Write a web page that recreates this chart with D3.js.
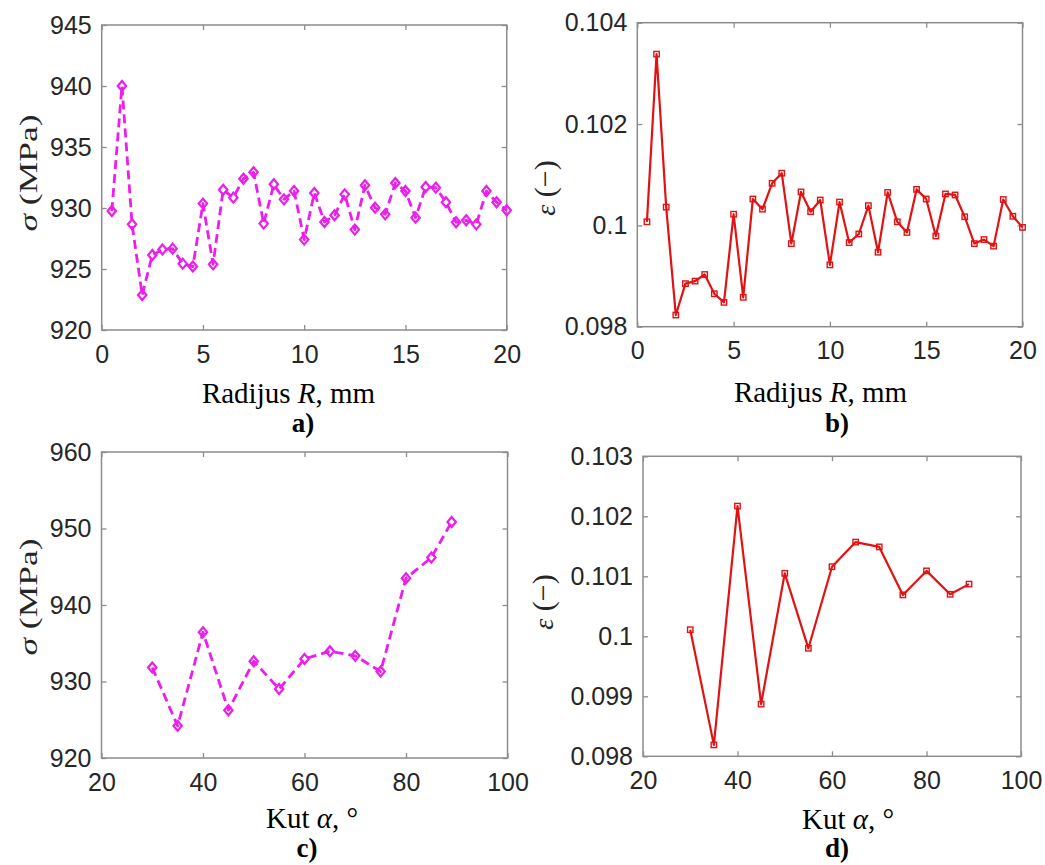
<!DOCTYPE html>
<html><head><meta charset="utf-8">
<script src="https://cdn.jsdelivr.net/npm/d3@7"></script>
<style>
html,body{margin:0;padding:0;background:#fff;}
svg{display:block;}
</style></head>
<body>
<svg id="chart" width="1045" height="865"></svg>
<script>
// ---------- data ----------
const radius = [0.5,1,1.5,2,2.5,3,3.5,4,4.5,5,5.5,6,6.5,7,7.5,8,8.5,9,9.5,10,10.5,11,11.5,12,12.5,13,13.5,14,14.5,15,15.5,16,16.5,17,17.5,18,18.5,19,19.5,20];
const sigmaRadius = [929.75,940.0,928.66,922.87,926.15,926.6,926.67,925.44,925.2,930.36,925.38,931.5,930.85,932.4,932.93,928.72,931.94,930.71,931.39,927.41,931.23,928.85,929.40,931.12,928.23,931.86,930.03,929.48,932.05,931.39,929.21,931.72,931.67,930.47,928.83,928.99,928.66,931.39,930.47,929.81];
const epsRadius = [0.10007,0.10338,0.10036,0.09823,0.09885,0.0989,0.09903,0.09865,0.09848,0.10022,0.09858,0.10052,0.10032,0.10083,0.10103,0.09964,0.10066,0.10027,0.1005,0.09922,0.10046,0.09966,0.09983,0.10039,0.09947,0.10065,0.10007,0.09986,0.10071,0.10052,0.09979,0.10062,0.1006,0.10017,0.09964,0.09972,0.09959,0.10051,0.10018,0.09996];
const angle = [30,35,40,45,50,55,60,65,70,75,80,85,89];
const sigmaAngle = [931.83,924.2,936.44,926.25,932.65,929.03,932.95,933.96,933.35,931.31,943.5,946.2,950.86];
const epsAngle = [0.10011,0.09819,0.10217,0.09887,0.10105,0.0998,0.10116,0.10157,0.10149,0.10069,0.10109,0.1007,0.10087];

const xTicksR = [0,5,10,15,20];
const xTicksA = [20,40,60,80,100];
const yTicksSigmaR = [920,925,930,935,940,945];
const yTicksEpsR = [0.098,0.1,0.102,0.104];
const yTicksSigmaA = [920,930,940,950,960];
const yTicksEpsA = [0.098,0.099,0.1,0.101,0.102,0.103];

// ---------- drawing ----------
const svg = d3.select("#chart");
const MAG = "#ec1eec", RED = "#e21212";
const AX = "#8c8c8c", TXT = "#262626";
const SANS = "'Liberation Sans', Arial, sans-serif";
const SERIF = "'Liberation Serif', 'Times New Roman', serif";

const panels = [
  {box:[101.7,506.7,25,330], xd:[0,20], yd:[920,945], xs:radius, ys:sigmaRadius, xt:xTicksR, yt:yTicksSigmaR,
   color:MAG, dash:"9,5", marker:"diamond", xlab:"R", xlabPos:[288.5,403], ylab:"sigma", ylabPos:[37,173], cap:"a)", capPos:[303,432]},
  {box:[637.3,1022.5,22.7,326.7], xd:[0,20], yd:[0.098,0.104], xs:radius, ys:epsRadius, xt:xTicksR, yt:yTicksEpsR,
   color:RED, dash:null, marker:"square", xlab:"R", xlabPos:[820.5,402], ylab:"eps", ylabPos:[555,188], cap:"b)", capPos:[837,432]},
  {box:[101.5,507.5,452,758], xd:[20,100], yd:[920,960], xs:angle, ys:sigmaAngle, xt:xTicksA, yt:yTicksSigmaA,
   color:MAG, dash:"9,5", marker:"diamond", xlab:"A", xlabPos:[312,828], ylab:"sigma", ylabPos:[37,597], cap:"c)", capPos:[307,857]},
  {box:[643,1021,456.3,756.3], xd:[20,100], yd:[0.098,0.103], xs:angle, ys:epsAngle, xt:xTicksA, yt:yTicksEpsA,
   color:RED, dash:null, marker:"square", xlab:"A", xlabPos:[848,829], ylab:"eps", ylabPos:[553,602], cap:"d)", capPos:[837,857]}
];

const fmt = d3.format("~g");

panels.forEach(p => {
  const [l,r,t,b] = p.box;
  const x = d3.scaleLinear().domain(p.xd).range([l,r]);
  const y = d3.scaleLinear().domain(p.yd).range([b,t]);
  const g = svg.append("g");

  const mk = (axis, tr, labels) => {
    const a = g.append("g").attr("transform", tr).call(axis);
    a.select(".domain").remove();
    a.selectAll(".tick line").attr("stroke", AX).attr("stroke-width", 1.3);
    a.selectAll(".tick text").attr("fill", TXT).style("font-family", SANS).style("font-size","25px");
    if (!labels) a.selectAll(".tick text").remove();
    return a;
  };
  mk(d3.axisBottom(x).tickValues(p.xt).tickFormat(fmt).tickSize(-5).tickPadding(15), `translate(0,${b})`, true);
  mk(d3.axisTop(x).tickValues(p.xt).tickSize(-5), `translate(0,${t})`, false);
  mk(d3.axisLeft(y).tickValues(p.yt).tickFormat(fmt).tickSize(-5).tickPadding(10), `translate(${l},0)`, true);
  mk(d3.axisRight(y).tickValues(p.yt).tickSize(-5), `translate(${r},0)`, false);

  g.append("rect").attr("x", l).attr("y", t).attr("width", r-l).attr("height", b-t)
    .attr("fill","none").attr("stroke", AX).attr("stroke-width", 1.5);

  const pts = p.xs.map((v,i)=>[v,p.ys[i]]);
  const line = d3.line().x(d=>x(d[0])).y(d=>y(d[1]));
  const path = g.append("path").datum(pts).attr("d", line).attr("fill","none")
    .attr("stroke", p.color).attr("stroke-width", p.dash ? 2.8 : 2.2).attr("stroke-linejoin","round");
  if (p.dash) path.attr("stroke-dasharray", p.dash);

  if (p.marker === "diamond") {
    g.selectAll(".mk").data(pts).enter().append("path")
      .attr("d", d => { const cx=x(d[0]), cy=y(d[1]); return `M${cx},${cy-5}L${cx+4.2},${cy}L${cx},${cy+5}L${cx-4.2},${cy}Z`; })
      .attr("fill","none").attr("stroke", p.color).attr("stroke-width", 2.2);
  } else {
    g.selectAll(".mk").data(pts).enter().append("rect")
      .attr("x", d=>x(d[0])-2.7).attr("y", d=>y(d[1])-2.7).attr("width",5.4).attr("height",5.4)
      .attr("fill","none").attr("stroke", p.color).attr("stroke-width", 1.4);
  }

  const xl = g.append("text").attr("x", p.xlabPos[0]).attr("y", p.xlabPos[1]).attr("text-anchor","middle")
    .attr("font-family", SERIF).style("font-family", SERIF).style("font-size","29px").attr("fill","#000");
  if (p.xlab === "R") {
    xl.append("tspan").text("Radijus ");
    xl.append("tspan").attr("font-style","italic").text("R");
    xl.append("tspan").text(", mm");
  } else {
    xl.append("tspan").text("Kut ");
    xl.append("tspan").attr("font-style","italic").text("α");
    xl.append("tspan").text(", °");
  }

  const yl = g.append("text").attr("transform", `translate(${p.ylabPos[0]},${p.ylabPos[1]}) rotate(-90)`)
    .attr("text-anchor","middle").style("font-family", SERIF).attr("fill", TXT);
  if (p.ylab === "sigma") {
    yl.style("font-size","26px").attr("textLength", 117).attr("lengthAdjust","spacingAndGlyphs");
    yl.append("tspan").attr("font-style","italic").text("σ");
    yl.append("tspan").text(" (MPa)");
  } else {
    yl.style("font-size","30px");
    yl.append("tspan").attr("font-style","italic").style("font-size","28px").text("ε");
    yl.append("tspan").text(" (−)");
  }

  g.append("text").attr("x", p.capPos[0]).attr("y", p.capPos[1]).attr("text-anchor","middle")
    .style("font-family", SERIF).style("font-size","27px").style("font-weight","bold").attr("fill","#000").text(p.cap);
});
</script>
</body></html>
